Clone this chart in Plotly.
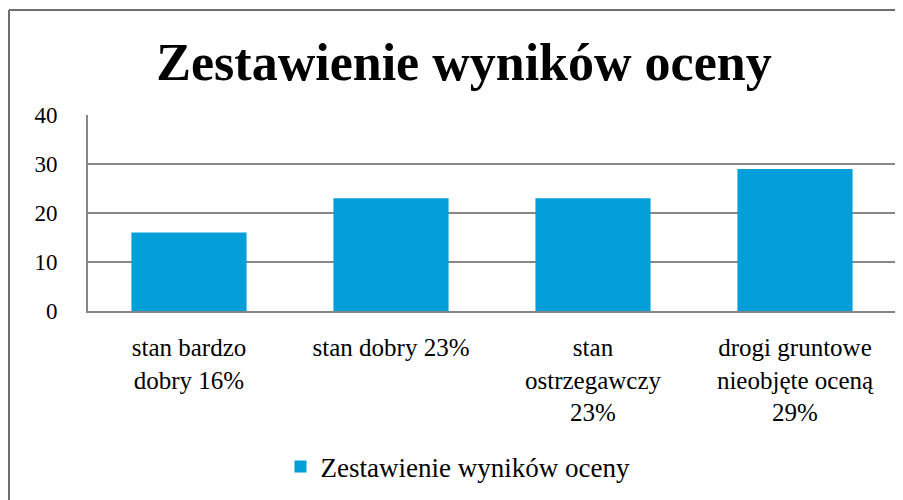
import plotly.graph_objects as go

categories = ["stan bardzo<br>dobry 16%", "stan dobry 23%", "stan<br>ostrzegawczy<br>23%", "drogi gruntowe<br>nieobjęte oceną<br>29%"]
values = [16, 23, 23, 29]
series_name = "Zestawienie wyników oceny"
title_text = "Zestawienie wyników oceny"
y_ticks = [0, 10, 20, 30, 40]

FONT = "Liberation Serif"
GRID = "#878787"

# the page body adds an 8px offset; figure is sized to fill the remaining window
W, H = 895, 492
OFF = 8

fig = go.Figure()
fig.add_trace(go.Bar(
    x=categories, y=values, name=series_name,
    marker=dict(color="#029fd9", line=dict(width=0)),
    width=0.57, showlegend=True,
))

fig.update_layout(
    width=W, height=H,
    margin=dict(l=88 - OFF, r=7, t=115 - OFF, b=189, autoexpand=False),
    paper_bgcolor="white", plot_bgcolor="white",
    font=dict(family=FONT, color="black", size=22),
    title=dict(text="<b>" + title_text + "</b>", x=(464 - OFF) / W, xanchor="center",
               y=1 - (62 - OFF) / H, yanchor="middle", yref="container",
               font=dict(family=FONT, size=52, color="black")),
    showlegend=True,
    legend=dict(orientation="h", xref="container", yref="container",
                x=(458 - OFF) / W, xanchor="center", y=1 - (467 - OFF) / H, yanchor="middle",
                font=dict(family=FONT, size=27, color="black"),
                itemwidth=30),
)
fig.update_xaxes(showline=True, linecolor=GRID, linewidth=2, ticks="",
                 tickfont=dict(family=FONT, size=25, color="black"),
                 tickangle=0, showgrid=False, ticklabelstandoff=13)
fig.update_yaxes(range=[0, 40], tickvals=y_ticks, showgrid=True, gridcolor=GRID,
                 gridwidth=1.5, showline=True, linecolor=GRID, linewidth=2,
                 zeroline=False, ticks="", ticklabelstandoff=24,
                 tickfont=dict(family=FONT, size=23, color="black"))

# chart border (left and top edges visible in reference)
pw = W - (88 - OFF) - 7
ph = H - (115 - OFF) - 189
bx = (9 - 88) / pw
by = 1 + (115 - 10) / ph
fig.add_shape(type="line", xref="paper", yref="paper", x0=bx, x1=bx + 900 / pw,
              y0=by, y1=by, line=dict(color="#6e6e6e", width=2))
fig.add_shape(type="line", xref="paper", yref="paper", x0=bx, x1=bx,
              y0=by, y1=by - 500 / ph, line=dict(color="#6e6e6e", width=2))

fig.write_html("out.html")
